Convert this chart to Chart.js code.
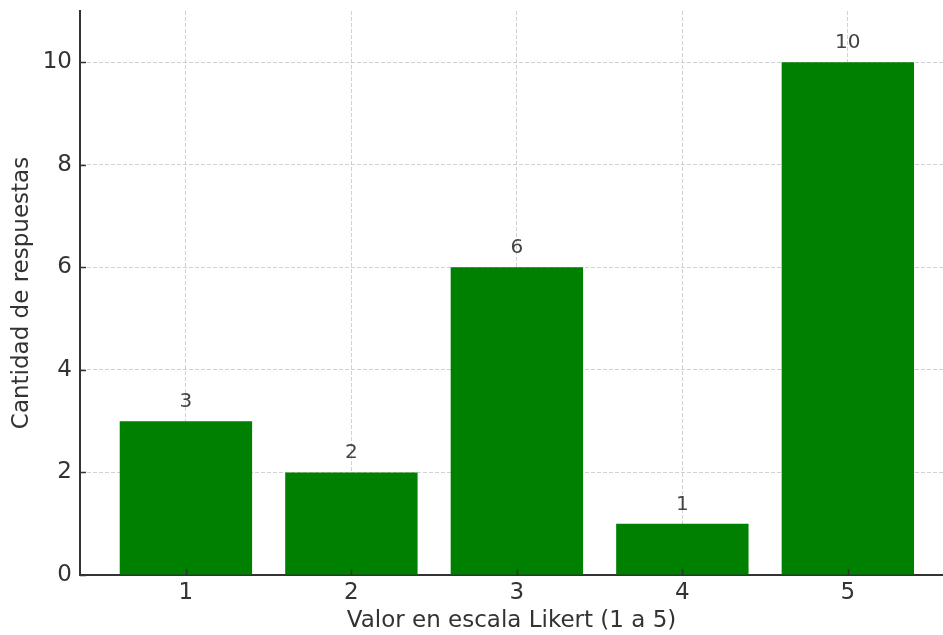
<!DOCTYPE html>
<html>
<head>
<meta charset="utf-8">
<script src="https://cdn.jsdelivr.net/npm/chart.js@4"></script>
<style>
  body { margin: 0; background: #fff; }
  #wrap { width: 943px; height: 635px; }
</style>
</head>
<body>
<div id="wrap"><canvas id="grafico"></canvas></div>
<script>
const valoresLikert = [1, 2, 3, 4, 5];
const cantidades = [3, 2, 6, 1, 10];
const ticksY = [0, 2, 4, 6, 8, 10];

Chart.defaults.font.family = "'DejaVu Sans', sans-serif";
Chart.defaults.color = '#333';

// etiquetas arriba de cada barra
const etiquetasBarras = {
  id: 'etiquetasBarras',
  afterDatasetsDraw(chart) {
    const ctx = chart.ctx;
    const meta = chart.getDatasetMeta(0);
    ctx.save();
    ctx.fillStyle = '#444';
    ctx.font = "20px 'DejaVu Sans'";
    ctx.textAlign = 'center';
    ctx.textBaseline = 'alphabetic';
    meta.data.forEach((bar, i) => {
      ctx.fillText(String(cantidades[i]), bar.x, bar.y - 14);
    });
    ctx.restore();
  }
};

// marcas de los ticks hacia adentro, como matplotlib
const ticksAdentro = {
  id: 'ticksAdentro',
  afterDraw(chart) {
    const ctx = chart.ctx;
    const x = chart.scales.x, y = chart.scales.y;
    ctx.save();
    ctx.strokeStyle = '#333';
    ctx.lineWidth = 1.5;
    ctx.beginPath();
    ticksY.forEach(v => {
      const py = Math.round(y.getPixelForValue(v)) + 0.5;
      ctx.moveTo(x.left, py);
      ctx.lineTo(x.left + 6, py);
    });
    valoresLikert.forEach(v => {
      const px = Math.round(x.getPixelForValue(v)) + 0.5;
      ctx.moveTo(px, y.bottom);
      ctx.lineTo(px, y.bottom - 6);
    });
    ctx.stroke();
    ctx.restore();
  }
};

new Chart(document.getElementById('grafico'), {
  type: 'bar',
  data: {
    datasets: [{
      data: valoresLikert.map((v, i) => ({ x: v, y: cantidades[i] })),
      backgroundColor: '#008000',
      borderWidth: 0,
      barPercentage: 0.8,
      categoryPercentage: 1.0
    }]
  },
  options: {
    responsive: true,
    maintainAspectRatio: false,
    animation: false,
    layout: { padding: { top: 0, right: 0, left: 0, bottom: 0 } },
    plugins: {
      legend: { display: false },
      tooltip: { enabled: false }
    },
    scales: {
      x: {
        type: 'linear',
        min: 0.36,
        max: 5.575,
        offset: false,
        z: 1,
        afterBuildTicks: s => { s.ticks = valoresLikert.map(v => ({ value: v })); },
        afterFit: s => { s.height = 60; },
        grid: { color: 'rgba(190,190,190,0.7)', lineWidth: 1, drawTicks: false, offset: false },
        border: { color: '#333', width: 2, dash: [4, 2] },
        ticks: { font: { size: 23 }, color: '#333', padding: 4 },
        title: { display: true, text: 'Valor en escala Likert (1 a 5)', font: { size: 23 }, color: '#333', padding: { top: 0, bottom: 0 } }
      },
      y: {
        min: 0,
        max: 11,
        z: 1,
        afterBuildTicks: s => { s.ticks = ticksY.map(v => ({ value: v })); },
        afterFit: s => { s.width = 80; s.paddingTop = 11; },
        grid: { color: 'rgba(190,190,190,0.7)', lineWidth: 1, drawTicks: false },
        border: { color: '#333', width: 2, dash: [4, 2] },
        ticks: { font: { size: 23 }, color: '#333', padding: 8 },
        title: { display: true, text: 'Cantidad de respuestas', font: { size: 23 }, color: '#333', padding: { top: 8, bottom: 0 } }
      }
    }
  },
  plugins: [etiquetasBarras, ticksAdentro]
});
</script>
</body>
</html>
